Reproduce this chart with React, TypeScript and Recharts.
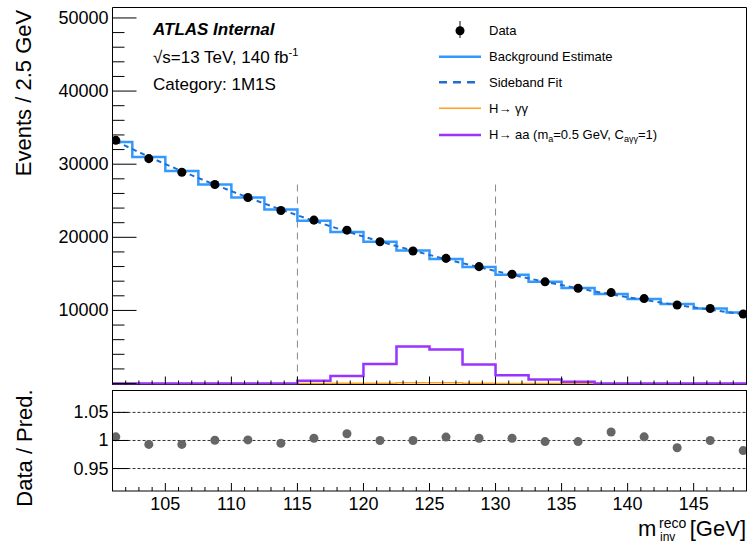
import React from "react";
import {
  ComposedChart,
  Line,
  Scatter,
  XAxis,
  YAxis,
  ReferenceLine,
} from "recharts";

// 2.5 GeV bins between 100 and 150 GeV
const binEdges = [
  100, 102.5, 105, 107.5, 110, 112.5, 115, 117.5, 120, 122.5, 125, 127.5, 130,
  132.5, 135, 137.5, 140, 142.5, 145, 147.5, 150,
];
const binCenters = [
  101.25, 103.75, 106.25, 108.75, 111.25, 113.75, 116.25, 118.75, 121.25,
  123.75, 126.25, 128.75, 131.25, 133.75, 136.25, 138.75, 141.25, 143.75,
  146.25, 148.75,
];

const dataCounts = [
  33260, 30760, 28900, 27220, 25440, 23670, 22350, 20980, 19400, 18120, 17120,
  15990, 14940, 13910, 13030, 12440, 11620, 10750, 10260, 9520,
];
const backgroundEstimate = [
  33050, 31000, 29080, 27230, 25430, 23790, 22250, 20740, 19380, 18180, 17020,
  15950, 14880, 13930, 13060, 12260, 11550, 10890, 10270, 9700,
];
const sidebandFit = [
  33150, 31020, 29050, 27200, 25450, 23800, 22250, 20800, 19440, 18190, 17010,
  15920, 14880, 13920, 13030, 12200, 11440, 10740, 10090, 9490,
];
const hToGammaGamma = [
  0, 0, 0, 0, 0, 0, 15, 25, 45, 120, 110, 40, 20, 10, 5, 0, 0, 0, 0, 0,
];
const hToAA = [
  0, 0, 0, 0, 0, 0, 380, 1020, 2660, 5075, 4670, 2620, 1120, 570, 250, 0, 0, 0,
  0, 0,
];
const ratioValues = [
  1.0065, 0.993, 0.993, 1.0005, 1.001, 0.995, 1.004, 1.012, 1.0, 1.0, 1.006,
  1.004, 1.004, 0.998, 0.998, 1.015, 1.0065, 0.987, 1.0, 0.982,
];

const mainYTicks = [
  0, 2000, 4000, 6000, 8000, 10000, 12000, 14000, 16000, 18000, 20000, 22000,
  24000, 26000, 28000, 30000, 32000, 34000, 36000, 38000, 40000, 42000, 44000,
  46000, 48000, 50000,
];
const ratioYTicks = [0.95, 1, 1.05];
const xTicks = [
  101, 102, 103, 104, 105, 106, 107, 108, 109, 110, 111, 112, 113, 114, 115,
  116, 117, 118, 119, 120, 121, 122, 123, 124, 125, 126, 127, 128, 129, 130,
  131, 132, 133, 134, 135, 136, 137, 138, 139, 140, 141, 142, 143, 144, 145,
  146, 147, 148, 149,
];
const signalWindow = [115, 130];

const FONT = "'Liberation Sans', Arial, sans-serif";

const stepData = (values: number[]) =>
  binEdges.map((e, i) => ({ x: e, y: values[Math.min(i, values.length - 1)] }));
const pointData = (values: number[]) =>
  binCenters.map((c, i) => ({ x: c, y: values[i] }));

const MainYTick = (props: any) => {
  const { x, y, payload } = props;
  const v = payload.value;
  const major = v % 10000 === 0;
  return (
    <g>
      <line x1={x} x2={x + (major ? 24 : 12)} y1={y} y2={y} stroke="#000" />
      {major && v > 0 && (
        <text
          x={x - 4}
          y={y}
          textAnchor="end"
          dominantBaseline="central"
          fontSize={18}
          fontFamily={FONT}
          fill="#000"
        >
          {v}
        </text>
      )}
    </g>
  );
};

const RatioYTick = (props: any) => {
  const { x, y, payload } = props;
  return (
    <g>
      <line x1={x} x2={x + 16} y1={y} y2={y} stroke="#000" />
      <text
        x={x - 4}
        y={y}
        textAnchor="end"
        dominantBaseline="central"
        fontSize={18}
        fontFamily={FONT}
        fill="#000"
      >
        {payload.value}
      </text>
    </g>
  );
};

const XTick = (props: any) => {
  const { x, y, payload, showLabel } = props;
  const v = payload.value;
  const major = v % 5 === 0;
  return (
    <g>
      <line x1={x} x2={x} y1={y} y2={y - (major ? 8 : 4)} stroke="#000" />
      {showLabel && major && (
        <text
          x={x}
          y={y + 19}
          textAnchor="middle"
          fontSize={18}
          fontFamily={FONT}
          fill="#000"
        >
          {v}
        </text>
      )}
    </g>
  );
};

export default function App() {
  return (
    <div
      style={{
        position: "absolute",
        left: 0,
        top: 0,
        width: 748,
        height: 546,
        background: "#fff",
        fontFamily: FONT,
      }}
    >
      <svg
        width={748}
        height={546}
        style={{ position: "absolute", left: 0, top: 0 }}
      >
        <line x1={112.5} x2={746.5} y1={384.5} y2={384.5} stroke="#000" />
      </svg>

      <div style={{ position: "absolute", left: 0, top: 0 }}>
        <ComposedChart
          width={748}
          height={390}
          margin={{ top: 7.5, right: 1.5, left: 0, bottom: 0 }}
        >
          <XAxis
            type="number"
            dataKey="x"
            domain={[101, 149]}
            allowDataOverflow
            ticks={xTicks}
            interval={0}
            height={5.5}
            axisLine={false}
            tickLine={false}
            tickSize={0}
            tickMargin={0}
            tick={(p: any) => <XTick {...p} showLabel={false} />}
          />
          <YAxis
            type="number"
            dataKey="y"
            domain={[-130, 51430]}
            allowDataOverflow
            ticks={mainYTicks}
            interval={0}
            width={112.5}
            axisLine={false}
            tickLine={false}
            tickSize={0}
            tickMargin={0}
            tick={(p: any) => <MainYTick {...p} />}
          />
          {signalWindow.map((m) => (
            <ReferenceLine
              key={m}
              segment={[
                { x: m, y: 0 },
                { x: m, y: 27400 },
              ]}
              stroke="#888"
              strokeDasharray="7 5"
            />
          ))}
          <Line
            data={stepData(hToGammaGamma)}
            dataKey="y"
            type="stepAfter"
            stroke="#ffa020"
            strokeWidth={1.5}
            dot={false}
            isAnimationActive={false}
          />
          <Line
            data={stepData(hToAA)}
            dataKey="y"
            type="stepAfter"
            stroke="#9933ff"
            strokeWidth={2.5}
            dot={false}
            isAnimationActive={false}
          />
          <Line
            data={stepData(backgroundEstimate)}
            dataKey="y"
            type="stepAfter"
            stroke="#3399ff"
            strokeWidth={2.5}
            dot={false}
            isAnimationActive={false}
          />
          <Line
            data={pointData(sidebandFit)}
            dataKey="y"
            type="monotone"
            stroke="#1f6fd0"
            strokeWidth={2}
            strokeDasharray="5 4"
            dot={false}
            isAnimationActive={false}
          />
          <Scatter
            data={pointData(dataCounts)}
            dataKey="y"
            fill="#000"
            isAnimationActive={false}
          />
        </ComposedChart>
      </div>

      <div style={{ position: "absolute", left: 0, top: 380 }}>
        <ComposedChart
          width={748}
          height={166}
          margin={{ top: 10.5, right: 1.5, left: 0, bottom: 0 }}
        >
          <XAxis
            type="number"
            dataKey="x"
            domain={[101, 149]}
            allowDataOverflow
            ticks={xTicks}
            interval={0}
            height={55}
            axisLine={false}
            tickLine={false}
            tickSize={0}
            tickMargin={0}
            tick={(p: any) => <XTick {...p} showLabel />}
          />
          <YAxis
            type="number"
            dataKey="y"
            domain={[0.91, 1.089]}
            allowDataOverflow
            ticks={ratioYTicks}
            interval={0}
            width={112.5}
            axisLine={false}
            tickLine={false}
            tickSize={0}
            tickMargin={0}
            tick={(p: any) => <RatioYTick {...p} />}
          />
          {ratioYTicks.map((t) => (
            <ReferenceLine
              key={t}
              y={t}
              stroke="#333"
              strokeDasharray="3 2"
            />
          ))}
          <Scatter
            data={pointData(ratioValues)}
            dataKey="y"
            fill="#666"
            isAnimationActive={false}
          />
        </ComposedChart>
      </div>

      <svg
        width={748}
        height={546}
        style={{ position: "absolute", left: 0, top: 0, pointerEvents: "none" }}
        fontFamily={FONT}
      >
        <path
          d="M112.5 384.5 V7.5 H746.5 V384.5"
          fill="none"
          stroke="#000"
        />
        <rect x={112.5} y={390.5} width={634} height={100.5} fill="none" stroke="#000" />

        <text
          x={31}
          y={93}
          fontSize={22}
          textAnchor="middle"
          transform="rotate(-90 31 93)"
        >
          Events / 2.5 GeV
        </text>
        <text
          x={32}
          y={448}
          fontSize={22}
          textAnchor="middle"
          transform="rotate(-90 32 448)"
        >
          Data / Pred.
        </text>

        <text x={153} y={35} fontSize={17} fontWeight="bold" fontStyle="italic">
          ATLAS Internal
        </text>
        <text x={153} y={63} fontSize={17}>
          √s=13 TeV, 140 fb
          <tspan fontSize={11} dy={-7}>
            -1
          </tspan>
        </text>
        <text x={153} y={90} fontSize={17}>
          Category: 1M1S
        </text>

        {/* legend */}
        <line x1={460} x2={460} y1={21} y2={38} stroke="#334" strokeWidth={1.2} />
        <circle cx={460} cy={30.7} r={4.5} fill="#000" />
        <text x={489} y={35} fontSize={13}>
          Data
        </text>
        <line x1={439} x2={481} y1={56.7} y2={56.7} stroke="#3399ff" strokeWidth={2.5} />
        <text x={489} y={61} fontSize={13}>
          Background Estimate
        </text>
        <line
          x1={439}
          x2={481}
          y1={82.3}
          y2={82.3}
          stroke="#1f6fd0"
          strokeWidth={2.5}
          strokeDasharray="8 6"
        />
        <text x={489} y={86.5} fontSize={13}>
          Sideband Fit
        </text>
        <line x1={439} x2={481} y1={108.3} y2={108.3} stroke="#ffa020" strokeWidth={1.5} />
        <text x={489} y={112.5} fontSize={13}>
          H→ γγ
        </text>
        <line x1={439} x2={481} y1={135} y2={135} stroke="#9933ff" strokeWidth={2.5} />
        <text x={489} y={139} fontSize={13}>
          H→ aa (m
          <tspan fontSize={9} dy={3}>
            a
          </tspan>
          <tspan dy={-3}>=0.5 GeV, C</tspan>
          <tspan fontSize={9} dy={3}>
            aγγ
          </tspan>
          <tspan dy={-3}>=1)</tspan>
        </text>

        {/* x axis title */}
        <text x={638} y={536} fontSize={22}>
          m
        </text>
        <text x={659} y={528} fontSize={14}>
          reco
        </text>
        <text x={660} y={541} fontSize={12}>
          inv
        </text>
        <text x={746} y={536} fontSize={22} textAnchor="end">
          [GeV]
        </text>
      </svg>
    </div>
  );
}
